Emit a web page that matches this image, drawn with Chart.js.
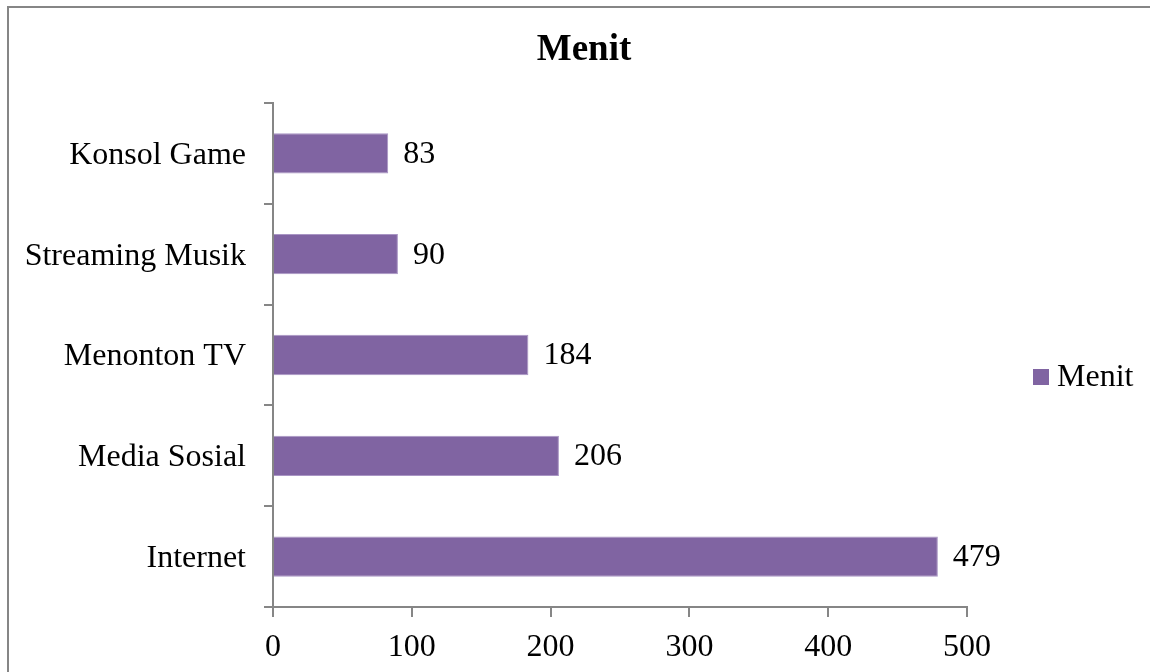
<!DOCTYPE html>
<html>
<head>
<meta charset="utf-8">
<script src="https://cdn.jsdelivr.net/npm/chart.js@4/dist/chart.umd.min.js"></script>
<style>
html,body{margin:0;padding:0;background:#fff;overflow:hidden;}
#chart{display:block;}
</style>
</head>
<body>
<canvas id="chart" width="1150" height="672"></canvas>
<script>

// data
const categories = ['Konsol Game','Streaming Musik','Menonton TV','Media Sosial','Internet']
const menit = [83,90,184,206,479]
const xTicks = [0,100,200,300,400,500]
const seriesName = 'Menit'

const serif = "'Liberation Serif','Times New Roman',serif"
const axisGray = '#868686'
const barColor = '#8064A2'


// frame, title, value labels, legend

const extras = {
id:'extras',
beforeDraw(chart){
const ctx = chart.ctx
ctx.save()
ctx.fillStyle = '#fff'
ctx.fillRect(0,0,chart.width,chart.height)
ctx.strokeStyle = axisGray
ctx.lineWidth = 2
ctx.strokeRect(8,7,chart.width+20,chart.height+20)
ctx.fillStyle = '#000'
ctx.font = "bold 37px " + serif
ctx.textAlign = 'center'
ctx.textBaseline = 'middle'
ctx.fillText(seriesName, 584, 50)
ctx.restore()
},
afterDatasetsDraw(chart){
const ctx = chart.ctx
const meta = chart.getDatasetMeta(0)
ctx.save()
ctx.font = "32px " + serif
ctx.fillStyle = '#000'
ctx.textBaseline = 'middle'
ctx.textAlign = 'left'
meta.data.forEach((bar,i)=>{
ctx.fillText(String(menit[i]), bar.x + 15, bar.y + 1)
})
// legend
ctx.fillStyle = barColor
ctx.fillRect(1033,369,16,16)
ctx.fillStyle = '#000'
ctx.fillText(seriesName, 1057, 378)
ctx.restore()
}
}


const chart = new Chart(

document.getElementById('chart'),

{
type:'bar',

data:{
labels:categories,
datasets:[{
label:seriesName,
data:menit,
backgroundColor:barColor,
borderColor:'#a995c4',
borderWidth:1,
barPercentage:0.4,
categoryPercentage:1
}]
},

options:{
indexAxis:'y',
responsive:false,
animation:false,
layout:{padding:{left:0,right:183,top:103,bottom:0}},
plugins:{
legend:{display:false},
tooltip:{enabled:false},
title:{display:false}
},
scales:{
x:{
min:0,
max:500,
afterBuildTicks(scale){ scale.ticks = xTicks.map(v=>({value:v})) },
afterFit(scale){ scale.height = 65 },
grid:{display:true,drawOnChartArea:false,drawTicks:true,tickLength:10,color:axisGray,lineWidth:2},
border:{color:axisGray,width:2},
ticks:{color:'#000',font:{family:serif,size:32},padding:11,maxRotation:0}
},
y:{
afterFit(scale){ scale.width = 273 },
grid:{display:true,drawOnChartArea:false,drawTicks:true,tickLength:9,color:axisGray,lineWidth:2,offset:true},
border:{color:axisGray,width:2},
ticks:{color:'#000',font:{family:serif,size:32},padding:18,labelOffset:2}
}
}
},

plugins:[extras]

}
)

</script>
</body>
</html>
